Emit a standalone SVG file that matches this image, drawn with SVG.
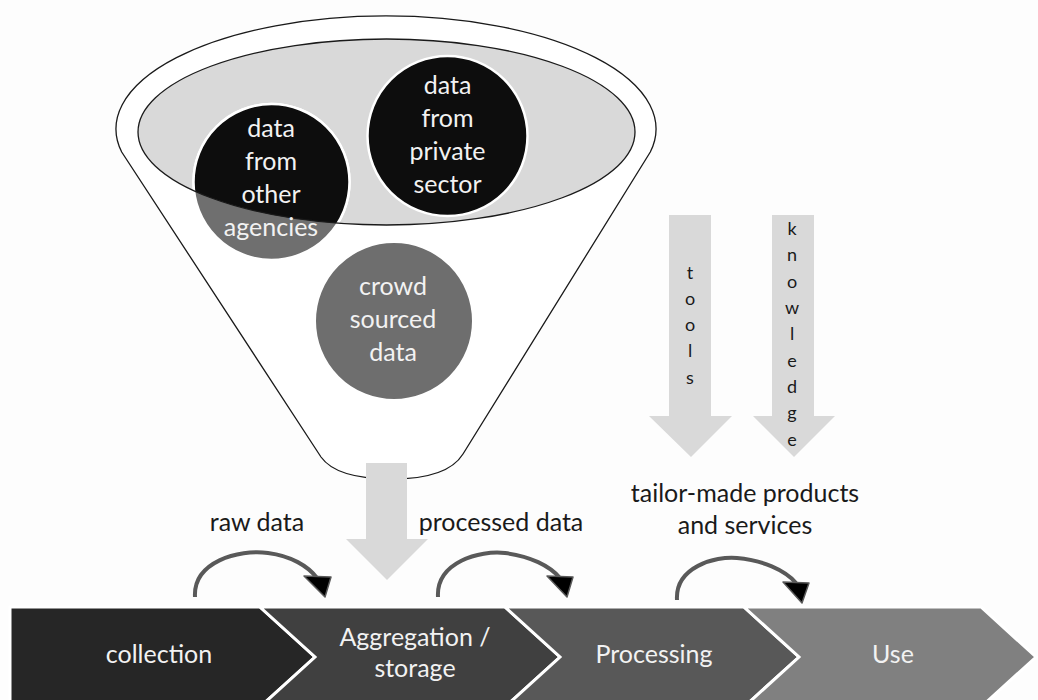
<svg xmlns="http://www.w3.org/2000/svg" width="1038" height="700" viewBox="0 0 1038 700">
<style>
.ct{font-family:Lato,"Open Sans","Liberation Sans",sans-serif;fill:#f2f2f2;text-anchor:middle;font-size:25px}
.lb{font-family:Lato,"Open Sans","Liberation Sans",sans-serif;fill:#1a1a1a;text-anchor:middle;font-size:25px}
.vt{font-family:Lato,"Open Sans","Liberation Sans",sans-serif;fill:#1a1a1a;text-anchor:middle;font-size:18px}
.arc{fill:none;stroke:#595959;stroke-width:4}
.ah{fill:#000;stroke:#595959;stroke-width:1.5;stroke-linejoin:round}
.big{fill:#d9d9d9}
.chev{stroke:#fff;stroke-width:3;stroke-linejoin:miter}
</style>
<defs>
<clipPath id="innerClip"><ellipse cx="386.5" cy="132" rx="248.5" ry="93"/></clipPath>
</defs>
<rect width="1038" height="700" fill="#fdfdfd"/>
<g id="funnel">
<path d="M121.7,152 A270,113 0 1,1 650.3,152 L463,454 C450,475 420,479 392,479 C360,479 333,474 321,457 Z" fill="#fff" stroke="#1a1a1a" stroke-width="1.3"/>
<ellipse cx="386.5" cy="132" rx="248.5" ry="93" fill="#d9d9d9"/>
</g>
<g id="agencies">
<circle cx="271.5" cy="182" r="78" fill="#6f6f6f" stroke="#fff" stroke-width="2.5"/>
<circle cx="271.5" cy="182" r="78" fill="#0d0d0d" stroke="#fff" stroke-width="2.5" clip-path="url(#innerClip)"/>
</g>
<g id="private">
<circle cx="447.5" cy="136" r="80" fill="#0d0d0d" stroke="#fff" stroke-width="2.5"/>
</g>
<g id="crowd">
<circle cx="394" cy="321" r="79" fill="#6e6e6e" stroke="#fff" stroke-width="2"/>
</g>
<ellipse cx="386.5" cy="132" rx="248.5" ry="93" fill="none" stroke="#1a1a1a" stroke-width="1.3"/>
<g id="agencies-text">
<text class="ct" x="271" y="137">data</text>
<text class="ct" x="271" y="170">from</text>
<text class="ct" x="271" y="203">other</text>
<text class="ct" x="271" y="236">agencies</text>
</g>
<g id="private-text">
<text class="ct" x="447.5" y="94">data</text>
<text class="ct" x="447.5" y="127">from</text>
<text class="ct" x="447.5" y="160">private</text>
<text class="ct" x="447.5" y="193">sector</text>
</g>
<g id="crowd-text">
<text class="ct" x="393" y="295">crowd</text>
<text class="ct" x="393" y="328">sourced</text>
<text class="ct" x="393" y="361">data</text>
</g>
<g id="funnel-arrow">
<polygon class="big" points="366,463 407,463 407,539 428,539 387,580 346,539 366,539"/>
</g>
<g id="tools">
<polygon class="big" points="669,215 711,215 711,416 732,416 691,457 649,416 669,416"/>
<text class="vt" x="690" y="279">t</text>
<text class="vt" x="690" y="305">o</text>
<text class="vt" x="690" y="331">o</text>
<text class="vt" x="690" y="357">l</text>
<text class="vt" x="690" y="384">s</text>
</g>
<g id="knowledge">
<polygon class="big" points="772,215 814,215 814,416 835,416 794,457 753,416 772,416"/>
<text class="vt" x="792" y="235">k</text>
<text class="vt" x="792" y="261">n</text>
<text class="vt" x="792" y="288">o</text>
<text class="vt" x="792" y="314">w</text>
<text class="vt" x="792" y="340">l</text>
<text class="vt" x="792" y="367">e</text>
<text class="vt" x="792" y="393">d</text>
<text class="vt" x="792" y="419">g</text>
<text class="vt" x="792" y="446">e</text>
</g>
<g id="collection">
<polygon class="chev" fill="#262626" points="10,607 260,607 315,657 260,707 10,707"/>
<text class="ct" x="159" y="663">collection</text>
</g>
<g id="aggregation">
<polygon class="chev" fill="#404040" points="260,607 505,607 560,657 505,707 260,707 315,657"/>
<text class="ct" x="415" y="646">Aggregation /</text>
<text class="ct" x="415" y="677">storage</text>
</g>
<g id="processing">
<polygon class="chev" fill="#585858" points="505,607 744,607 799,657 744,707 505,707 560,657"/>
<text class="ct" x="654" y="663">Processing</text>
</g>
<g id="use">
<polygon class="chev" fill="#808080" points="744,607 981,607 1036,657 981,707 744,707 799,657"/>
<text class="ct" x="893" y="663">Use</text>
</g>
<g id="connectors">
<path class="arc" d="M195,597 C193,562 238,549 268,553 C291,556 308,566 317,578"/>
<polygon class="ah" points="304,576 331,577 325,597"/>
<path class="arc" d="M438,597 C436,562 480,550 505,553 C530,556 550,566 560,578"/>
<polygon class="ah" points="547,576 573,577 567,597"/>
<path class="arc" d="M677,600 C675,567 715,556 737,558 C762,560 785,570 796,583"/>
<polygon class="ah" points="783,582 809,583 802,603"/>
</g>
<g id="labels">
<text class="lb" x="257" y="531">raw data</text>
<text class="lb" x="501" y="531">processed data</text>
<text class="lb" x="745" y="502">tailor-made products</text>
<text class="lb" x="745" y="534">and services</text>
</g>
</svg>
